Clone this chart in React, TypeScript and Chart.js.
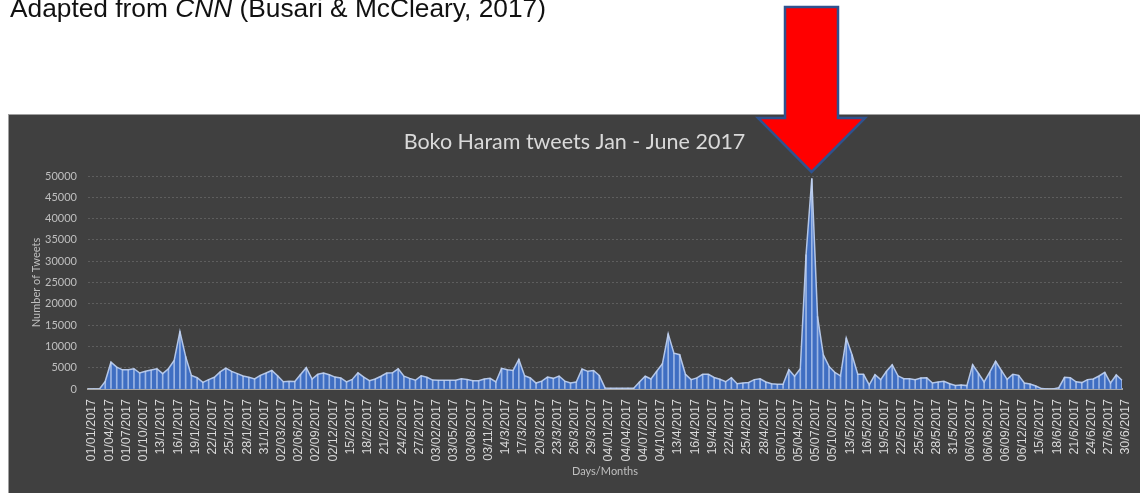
import React, { useEffect, useRef } from "react";
import { Chart, registerables } from "chart.js";

Chart.register(...registerables);

// Axis labels shown every third day (as exported from the spreadsheet)
const tickLabels = [
  "01/01/2017", "01/04/2017", "01/07/2017", "01/10/2017", "13/1/2017", "16/1/2017",
  "19/1/2017", "22/1/2017", "25/1/2017", "28/1/2017", "31/1/2017", "02/03/2017",
  "02/06/2017", "02/09/2017", "02/12/2017", "15/2/2017", "18/2/2017", "21/2/2017",
  "24/2/2017", "27/2/2017", "03/02/2017", "03/05/2017", "03/08/2017", "03/11/2017",
  "14/3/2017", "17/3/2017", "20/3/2017", "23/3/2017", "26/3/2017", "29/3/2017",
  "04/01/2017", "04/04/2017", "04/07/2017", "04/10/2017", "13/4/2017", "16/4/2017",
  "19/4/2017", "22/4/2017", "25/4/2017", "28/4/2017", "05/01/2017", "05/04/2017",
  "05/07/2017", "05/10/2017", "13/5/2017", "16/5/2017", "19/5/2017", "22/5/2017",
  "25/5/2017", "28/5/2017", "31/5/2017", "06/03/2017", "06/06/2017", "06/09/2017",
  "06/12/2017", "15/6/2017", "18/6/2017", "21/6/2017", "24/6/2017", "27/6/2017",
  "30/6/2017",
];

// Daily tweet counts, 1 Jan – 30 Jun 2017
const januaryTweets = [
  0, 0, 0, 1800, 6300, 5150, 4500, 4500, 4750, 3750, 4150, 4450, 4750, 3600, 4750, 6700,
  13500, 7600, 3200, 2650, 1550, 2200, 2750, 4000, 4900, 4150, 3600, 3050, 2750, 2350,
  3200,
];
const februaryTweets = [
  3750, 4350, 3100, 1700, 1800, 1750, 3400, 5000, 2350, 3450, 3750, 3350, 2800, 2600,
  1650, 2250, 3800, 2800, 1950, 2350, 3000, 3750, 3800, 4750, 3000, 2500, 2050, 3100,
];
const marchTweets = [
  2750, 2100, 2050, 2050, 2050, 2050, 2400, 2250, 1950, 1950, 2350, 2500, 1650, 4850,
  4500, 4350, 6950, 3100, 2600, 1400, 1850, 2800, 2500, 3050, 1850, 1400, 1650, 4700,
  4150, 4350, 3200,
];
const aprilTweets = [
  250, 200, 200, 200, 200, 200, 1650, 3000, 2350, 4150, 5950, 12950, 8400, 8050, 3450,
  2200, 2600, 3450, 3450, 2700, 2300, 1700, 2650, 1250, 1400, 1550, 2200, 2400, 1650,
  1250,
];
const mayTweets = [
  1100, 1100, 4550, 3000, 4750, 31500, 49400, 17000, 8050, 5300, 3900, 3100, 11950, 8050,
  3450, 3450, 950, 3350, 2200, 4150, 5700, 3100, 2400, 2400, 2200, 2600, 2650, 1400,
  1650, 1800, 1250,
];
const juneTweets = [
  850, 950, 800, 5700, 3700, 1650, 4000, 6500, 4350, 2250, 3450, 3200, 1400, 1150, 700,
  100, 0, 0, 300, 2750, 2650, 1700, 1500, 2200, 2350, 3050, 3900, 1400, 3300, 2050,
];

const tweets = [
  ...januaryTweets,
  ...februaryTweets,
  ...marchTweets,
  ...aprilTweets,
  ...mayTweets,
  ...juneTweets,
];

// One category per day; only every third day carries a visible label
const categories = tweets.map((_, i) => (i % 3 === 0 ? tickLabels[i / 3] : ""));

const CANVAS_W = 1131;
const CANVAS_H = 378;

export default function App() {
  const canvasRef = useRef<HTMLCanvasElement>(null);

  useEffect(() => {
    document.body.style.margin = "0";
    const canvas = canvasRef.current;
    if (!canvas) return;

    const chart = new Chart(canvas, {
      type: "line",
      data: {
        labels: categories,
        datasets: [
          {
            type: "bar",
            data: tweets,
            backgroundColor: "rgba(196, 212, 242, 0.7)",
            borderWidth: 0,
            barThickness: 1,
            order: 0,
          } as any,
          {
            type: "line",
            data: tweets,
            borderColor: "#b3c6e8",
            borderWidth: 1.5,
            backgroundColor: "#3f6ec2",
            fill: "origin",
            pointRadius: 0,
            tension: 0,
            order: 1,
          },
        ],
      },
      options: {
        responsive: false,
        animation: false,
        devicePixelRatio: 1,
        layout: { padding: 0 },
        plugins: {
          legend: { display: false },
          tooltip: { enabled: false },
          title: {
            display: true,
            text: "Boko Haram tweets Jan - June 2017",
            color: "#d9d9d9",
            font: { family: "Lato", size: 21.5, weight: "normal", lineHeight: 1.2 },
            padding: { top: 14, bottom: 21.2 },
          },
        },
        scales: {
          x: {
            type: "category",
            offset: false,
            grid: { display: false },
            border: { display: true, color: "#a6a6a6", width: 2 },
            ticks: {
              autoSkip: false,
              maxRotation: 90,
              minRotation: 90,
              color: "#d9d9d9",
              padding: 2,
              labelOffset: 4,
              font: { family: "Liberation Sans", size: 12.5 },
            },
            title: {
              display: true,
              text: "Days/Months",
              color: "#bfbfbf",
              font: { family: "Lato", size: 11 },
              padding: { top: 0, bottom: 15.4 },
            },
            afterFit: (scale: any) => {
              // fixed band for the rotated date labels, and a fixed right margin
              scale.height = 104;
              scale.paddingLeft = 0;
              scale.paddingRight = 18;
            },
          },
          y: {
            min: 0,
            max: 50000,
            ticks: {
              stepSize: 5000,
              color: "#bfbfbf",
              padding: 11,
              font: { family: "Lato", size: 11 },
              callback: (value: any) => String(value),
            },
            grid: {
              drawTicks: false,
              color: (ctx: any) => (ctx.tick && ctx.tick.value === 0 ? "rgba(0,0,0,0)" : "#5e5e5e"),
              lineWidth: 1,
            },
            border: { display: false, dash: [2, 2] },
            title: {
              display: true,
              text: "Number of Tweets",
              color: "#bfbfbf",
              font: { family: "Lato", size: 11 },
              padding: { top: 20.4, bottom: 0 },
            },
            afterFit: (scale: any) => {
              scale.width = 79;
            },
          },
        },
      },
    });

    return () => chart.destroy();
  }, []);

  return (
    <div style={{ position: "relative", width: 1140, height: 493, overflow: "hidden", background: "#ffffff" }}>
      <div
        style={{
          position: "absolute",
          left: 8,
          top: 114,
          width: 1132,
          height: 379,
          boxSizing: "border-box",
          background: "#404040",
          borderTop: "1px solid #a0a0a0",
          borderLeft: "1px solid #a0a0a0",
        }}
      >
        <canvas
          ref={canvasRef}
          width={CANVAS_W}
          height={CANVAS_H}
          style={{ display: "block", width: CANVAS_W, height: CANVAS_H }}
        />
      </div>
      <svg
        width={1140}
        height={493}
        style={{ position: "absolute", left: 0, top: 0, pointerEvents: "none" }}
      >
        <text x={10} y={17} fontFamily="'Liberation Sans', Arial, sans-serif" fontSize={26.3} fill="#111111">
          Adapted from <tspan fontStyle="italic">CNN</tspan> (Busari {"&"} McCleary, 2017)
        </text>
        <polygon
          points="785,7 838,7 838,118 865,118 811.5,172 758,118 785,118"
          fill="#ff0000"
          stroke="#2f528f"
          strokeWidth={2.5}
          strokeLinejoin="miter"
        />
      </svg>
    </div>
  );
}
